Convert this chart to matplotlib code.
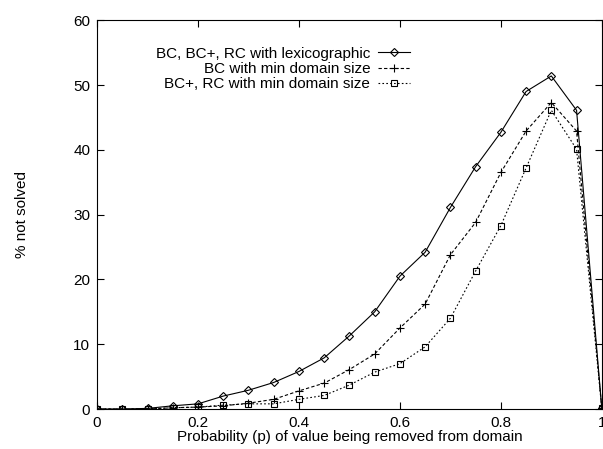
import matplotlib
matplotlib.use("Agg")
import matplotlib.pyplot as plt

plt.rcParams['font.family'] = ['Liberation Sans', 'DejaVu Sans']

p = [0.0, 0.05, 0.1, 0.15, 0.2, 0.25, 0.3, 0.35, 0.4, 0.45, 0.5,
     0.55, 0.6, 0.65, 0.7, 0.75, 0.8, 0.85, 0.9, 0.95, 1.0]

lex = [0.0, 0.0, 0.1, 0.5, 0.8, 2.0, 2.9, 4.1, 5.8, 7.9, 11.3,
       15.0, 20.5, 24.2, 31.1, 37.4, 42.7, 49.0, 51.4, 46.1, 0.1]
bc_min = [0.0, 0.0, 0.0, 0.2, 0.3, 0.5, 0.9, 1.5, 2.8, 4.0, 6.1,
          8.5, 12.5, 16.2, 23.8, 28.8, 36.5, 42.9, 47.3, 42.9, 0.1]
bcp_min = [0.0, 0.0, 0.0, 0.2, 0.3, 0.6, 0.8, 0.8, 1.5, 2.1, 3.7,
           5.7, 7.0, 9.6, 14.0, 21.3, 28.3, 37.2, 46.1, 40.1, 0.1]

labels = ["BC, BC+, RC with lexicographic",
          "BC with min domain size",
          "BC+, RC with min domain size"]

fig = plt.figure(figsize=(6.03, 4.49), dpi=100)
ax = fig.add_axes([0.161, 0.089, 0.837, 0.866])

ax.plot(p, lex, color='black', lw=0.8, ls='-', marker='D', ms=3.6,
        mfc='none', mew=0.8, label=labels[0])
ax.plot(p, bc_min, color='black', lw=0.8, ls=(0, (3, 2)), marker='+', ms=6,
        mew=0.8, label=labels[1])
ax.plot(p, bcp_min, color='black', lw=0.8, ls=(0, (1.5, 2)), marker='s', ms=4.3,
        mfc='none', mew=0.8, label=labels[2])

ax.set_xlim(0, 1)
ax.set_ylim(0, 60)
ax.set_xticks([0, 0.2, 0.4, 0.6, 0.8, 1])
ax.set_xticklabels(['0', '0.2', '0.4', '0.6', '0.8', '1'])
ax.set_yticks(range(0, 61, 10))
ax.tick_params(direction='in', top=True, right=True, length=5, width=0.8,
               labelsize=11, pad=5)
for s in ax.spines.values():
    s.set_linewidth(0.8)

ax.set_xlabel("Probability (p) of value being removed from domain", fontsize=11, labelpad=0)
ax.set_ylabel("% not solved", fontsize=11, labelpad=32)

ax.legend(loc='upper right', bbox_to_anchor=(0.62, 0.932), frameon=False,
          markerfirst=False, fontsize=11, handlelength=2.1, handletextpad=0.5,
          labelspacing=0.08, borderpad=0, borderaxespad=0)

fig.savefig("out.png", dpi=100)
